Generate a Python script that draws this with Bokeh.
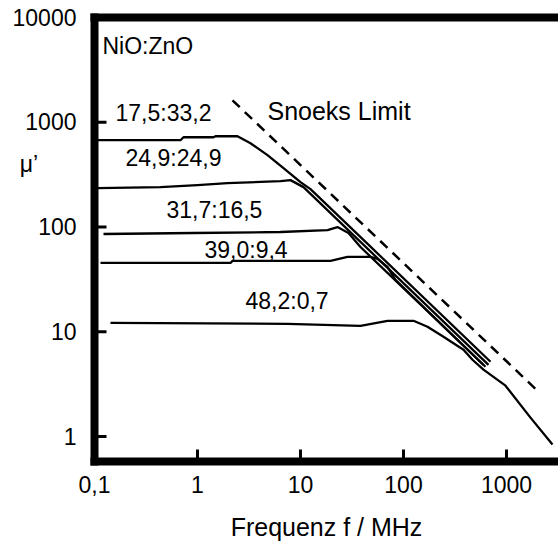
from bokeh.plotting import figure
from bokeh.models import LogAxis, FixedTicker, Label
from bokeh.core.properties import value
from bokeh.embed import file_html
from bokeh.resources import INLINE

# ---- data ----
f_175 = [0.1045, 0.684, 0.731, 1.430, 1.495, 2.445, 3.270, 4.782, 6.839, 10.0, 12.51, 699.4]
mu_175 = [673.9, 673.9, 719.7, 719.7, 735.7, 735.7, 631.0, 485.1, 364.8, 268.3, 230.1, 5.18]

f_249 = [0.1069, 0.4373, 1.0, 1.956, 6.394, 7.995, 10.69, 668.8]
mu_249 = [235.2, 240.4, 251.2, 262.5, 274.2, 280.3, 240.4, 4.84]

f_317 = [0.1223, 0.915, 6.394, 18.29, 22.87, 29.24, 38.23, 625.4]
mu_317 = [85.8, 87.7, 89.65, 93.6, 100.0, 87.7, 64.5, 4.64]

f_390 = [0.1144, 2.091, 2.187, 19.56, 28.59, 47.82, 55.93, 69.94, 83.6, 598.0]
mu_390 = [45.4, 45.4, 47.5, 47.5, 51.8, 51.8, 49.6, 41.6, 31.27, 4.82]

f_482 = [0.1430, 7.479, 38.23, 69.94, 125.1, 171.0, 244.5, 382.3, 467.7, 598.0, 977.9, 1710, 2797]
mu_482 = [12.18, 11.92, 11.41, 12.73, 12.73, 11.16, 8.96, 6.74, 5.41, 4.35, 3.06, 1.517, 0.839]

f_snoek = [2.187, 2045]
mu_snoek = [1620, 2.68]

curve_labels = ["17,5:33,2", "24,9:24,9", "31,7:16,5", "39,0:9,4", "48,2:0,7"]
curve_label_f = [0.160, 0.200, 0.500, 1.169, 2.924]
curve_label_mu = [1218, 454, 145.2, 60.4, 19.73]

x_ticks = [0.1, 1, 10, 100, 1000]
x_tick_labels = ["0,1", "1", "10", "100", "1000"]
y_ticks = [1, 10, 100, 1000, 10000]
y_tick_labels = ["1", "10", "100", "1000", "10000"]
y_title = "μ’"
y_title_pos = 400

FONT = "Liberation Sans"
X_START, X_END = 0.1, 3199
Y_START, Y_END = 0.578, 10000
PX_PER_DEC_X = 103.0
PX_PER_DEC_Y = 105.0

p = figure(width=558, height=543, x_axis_type="log", y_axis_type="log",
           x_range=(X_START, X_END), y_range=(Y_START, Y_END),
           output_backend="svg", toolbar_location=None,
           min_border_left=94, min_border_right=0,
           min_border_top=17, min_border_bottom=81)
p.outline_line_color = None
p.grid.visible = False
p.background_fill_color = "white"
p.border_fill_color = "white"

xa = p.xaxis[0]
ya = p.yaxis[0]
xa.ticker = FixedTicker(ticks=x_ticks)
xa.major_label_overrides = dict(zip(x_ticks, x_tick_labels))
pad = "\u00a0" * 6
ya.ticker = FixedTicker(ticks=y_ticks + [y_title_pos])
ya.major_label_overrides = {**dict(zip(y_ticks, y_tick_labels)), y_title_pos: y_title + pad}

for ax in (xa, ya):
    ax.axis_line_width = 8
    ax.axis_line_color = "black"
    ax.axis_line_cap = "square"
    ax.major_tick_in = 0
    ax.major_tick_out = 0
    ax.major_tick_line_color = None
    ax.minor_tick_line_color = None
    ax.major_label_text_font = FONT
    ax.major_label_text_font_size = "23px"
    ax.major_label_text_color = "black"

xa.major_label_standoff = 14
ya.major_label_standoff = 18
xa.axis_label = "Frequenz f / MHz"
xa.axis_label_text_font = FONT
xa.axis_label_text_font_size = "25px"
xa.axis_label_text_font_style = "normal"
xa.axis_label_text_color = "black"
xa.axis_label_standoff = 17

top = LogAxis(ticker=FixedTicker(ticks=[]), axis_line_width=8, axis_line_color="black",
              axis_line_cap="square",
              major_tick_line_color=None, minor_tick_line_color=None,
              major_label_text_font_size="0px", major_label_standoff=0)
p.add_layout(top, "above")

# inward tick marks (drawn inside the frame)
tick_len = 12
xt = [t for t in x_ticks if X_START < t < X_END]
p.segment(x0=xt, x1=xt, y0=[Y_START] * len(xt),
          y1=[Y_START * 10 ** (tick_len / PX_PER_DEC_Y)] * len(xt),
          line_width=3, line_color="black")
yt = [t for t in y_ticks if Y_START < t < Y_END]
p.segment(x0=[X_START] * len(yt), x1=[X_START * 10 ** (tick_len / PX_PER_DEC_X)] * len(yt),
          y0=yt, y1=yt, line_width=3, line_color="black")

for fx, my in ((f_175, mu_175), (f_249, mu_249), (f_317, mu_317), (f_390, mu_390), (f_482, mu_482)):
    p.line(fx, my, line_width=2.3, line_color="black", line_join="round")

p.line(f_snoek, mu_snoek, line_width=2.5, line_color="black", line_dash="10 7")

p.text(x=curve_label_f, y=curve_label_mu, text=curve_labels,
       text_font=value(FONT), text_font_size="23px", text_color="black",
       text_align="left", text_baseline="alphabetic")

p.add_layout(Label(x=0.1196, y=5297, text="NiO:ZnO", text_font=FONT, text_font_size="23px",
                   text_color="black", text_align="left", text_baseline="alphabetic"))
p.add_layout(Label(x=4.78, y=1273, text="Snoeks Limit", text_font=FONT, text_font_size="25px",
                   text_color="black", text_align="left", text_baseline="alphabetic"))

open("out.html", "w").write(file_html(p, INLINE))
